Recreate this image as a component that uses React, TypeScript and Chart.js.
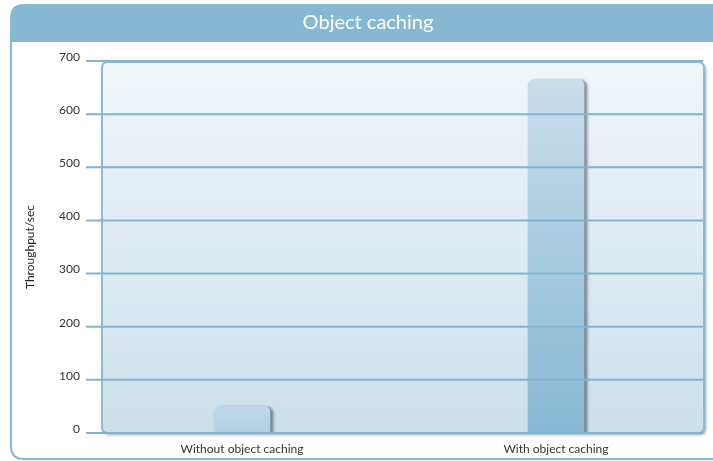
import React, { useEffect, useRef } from "react";
import { Chart, registerables } from "chart.js";

Chart.register(...registerables);

const chartTitle = "Object caching";
const yAxisTitle = "Throughput/sec";
const categories = ["Without object caching", "With object caching"];
const throughput = [50, 665];
const yMax = 700;
const yStep = 100;

const barTopColors = ["#bdd8e9", "#cadeec"];
const barBottomColors = ["#b4d1e4", "#87b8d2"];

const FONT = "Lato, 'Open Sans', sans-serif";
const BLUE = "#87b8d2";

function roundRectPath(ctx: CanvasRenderingContext2D, x: number, y: number, w: number, h: number, r: number) {
  ctx.beginPath();
  ctx.moveTo(x + r, y);
  ctx.lineTo(x + w - r, y);
  ctx.quadraticCurveTo(x + w, y, x + w, y + r);
  ctx.lineTo(x + w, y + h - r);
  ctx.quadraticCurveTo(x + w, y + h, x + w - r, y + h);
  ctx.lineTo(x + r, y + h);
  ctx.quadraticCurveTo(x, y + h, x, y + h - r);
  ctx.lineTo(x, y + r);
  ctx.quadraticCurveTo(x, y, x + r, y);
  ctx.closePath();
}

const decorPlugin = {
  id: "decor",
  beforeDraw(chart: any) {
    const { ctx, width, height, chartArea } = chart;
    ctx.save();
    ctx.fillStyle = "#ffffff";
    ctx.fillRect(0, 0, width, height);

    // outer box
    const ox = 11, oy = 5, ow = width + 30, oh = height - 7, r = 13;
    roundRectPath(ctx, ox, oy, ow, oh, r);
    ctx.lineWidth = 2;
    ctx.strokeStyle = BLUE;
    ctx.stroke();
    // header band
    ctx.save();
    roundRectPath(ctx, ox, oy, ow, oh, r);
    ctx.clip();
    ctx.fillStyle = BLUE;
    ctx.fillRect(ox - 2, oy - 2, ow + 4, 39);
    ctx.restore();
    ctx.fillStyle = "#ffffff";
    ctx.font = `20px ${FONT}`;
    ctx.textAlign = "center";
    ctx.textBaseline = "middle";
    ctx.fillText(chartTitle, 368, 23);

    // inner plot panel
    const px = chartArea.left + 17;
    const py = chartArea.top + 1;
    const pw = chartArea.right - 9 - px;
    const ph = chartArea.bottom - py;
    const grad = ctx.createLinearGradient(0, py, 0, py + ph);
    grad.addColorStop(0, "#f1f6f9");
    grad.addColorStop(0.5, "#dfebf3");
    grad.addColorStop(1, "#cddfea");
    ctx.save();
    ctx.shadowColor = "rgba(40,60,80,0.45)";
    ctx.shadowOffsetX = 2;
    ctx.shadowOffsetY = 2;
    ctx.shadowBlur = 3;
    roundRectPath(ctx, px, py, pw, ph, 6);
    ctx.fillStyle = grad;
    ctx.fill();
    ctx.restore();
    roundRectPath(ctx, px, py, pw, ph, 6);
    ctx.lineWidth = 2;
    ctx.strokeStyle = "#8bbcd5";
    ctx.stroke();
    ctx.restore();
  },
  beforeDatasetsDraw(chart: any) {
    const { ctx } = chart;
    ctx.save();
    ctx.shadowColor = "rgba(30,50,70,0.55)";
    ctx.shadowOffsetX = 3;
    ctx.shadowOffsetY = 1;
    ctx.shadowBlur = 3;
  },
  afterDatasetsDraw(chart: any) {
    const { ctx, chartArea } = chart;
    ctx.restore();
    const y = chart.scales.y;
    ctx.save();
    ctx.strokeStyle = "#80b4d0";
    ctx.lineWidth = 2;
    y.ticks.forEach((t: any) => {
      const py = y.getPixelForValue(t.value);
      ctx.beginPath();
      ctx.moveTo(chartArea.left + 1, py);
      ctx.lineTo(chartArea.right - 10, py);
      ctx.stroke();
    });
    ctx.restore();
  },
};

export default function App() {
  const ref = useRef<HTMLCanvasElement | null>(null);
  useEffect(() => {
    if (!ref.current) return;
    const chart = new Chart(ref.current, {
      type: "bar",
      data: {
        labels: categories,
        datasets: [
          {
            data: throughput,
            barThickness: 56,
            borderRadius: { topLeft: 6, topRight: 6, bottomLeft: 0, bottomRight: 0 },
            borderSkipped: "bottom",
            backgroundColor: (c: any) => {
              const ch = c.chart;
              const ys = ch.scales && ch.scales.y;
              const i = c.dataIndex ?? 0;
              if (!ys || !ch.chartArea) return barBottomColors[i];
              const top = ys.getPixelForValue(throughput[i]);
              const bottom = ys.getPixelForValue(0);
              const g = ch.ctx.createLinearGradient(0, top, 0, bottom);
              g.addColorStop(0, barTopColors[i]);
              g.addColorStop(1, barBottomColors[i]);
              return g;
            },
          },
        ],
      },
      options: {
        animation: false,
        responsive: true,
        maintainAspectRatio: false,
        layout: { padding: { top: 61, left: 0, right: 0, bottom: 0 } },
        plugins: {
          legend: { display: false },
          tooltip: { enabled: false },
          title: { display: false },
        },
        scales: {
          x: {
            grid: { display: false, drawTicks: false },
            border: { display: false },
            ticks: { color: "#333333", font: { family: FONT, size: 12 }, padding: 9 },
            afterFit: (s: any) => {
              s.height = 28;
            },
          },
          y: {
            min: 0,
            max: yMax,
            grid: { display: false, drawTicks: false },
            border: { display: false },
            ticks: {
              stepSize: yStep,
              color: "#333333",
              font: { family: FONT, size: 12 },
              padding: 5,
              labelOffset: -4,
            },
            title: {
              display: true,
              text: yAxisTitle,
              color: "#222222",
              font: { family: FONT, size: 12 },
              padding: { top: 23, bottom: 0 },
            },
            afterFit: (s: any) => {
              s.width = 85;
            },
          },
        },
      },
      plugins: [decorPlugin],
    });
    return () => chart.destroy();
  }, []);
  return (
    <div style={{ position: "fixed", left: 0, top: 0, width: 713, height: 461 }}>
      <canvas ref={ref} />
    </div>
  );
}
